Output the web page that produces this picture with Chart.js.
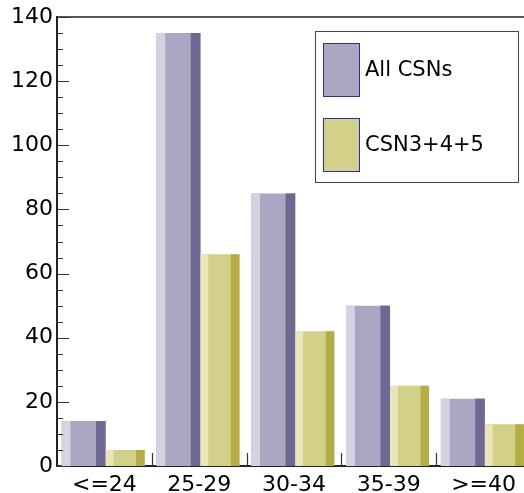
<!DOCTYPE html>
<html>
<head>
<meta charset="utf-8">
<script src="https://cdn.jsdelivr.net/npm/chart.js@4"></script>
<style>
html, body { margin: 0; padding: 0; background: #fff; overflow: hidden; }
</style>
</head>
<body>
<canvas id="grafico" width="540" height="493"></canvas>
<script>
const categorias = ['<=24', '25-29', '30-34', '35-39', '>=40'];
const todos = [14, 135, 85, 50, 21];
const csn345 = [5, 66, 42, 25, 13];
const nombres = ['All CSNs', 'CSN3+4+5'];
const marcasY = [0, 20, 40, 60, 80, 100, 120, 140];

// tres tonos por serie: franja clara, cuerpo, franja oscura
const colores = [
    { claro: '#d4d3e1', medio: '#aaa7c3', oscuro: '#6f6894' },
    { claro: '#e9e6b9', medio: '#d3d08a', oscuro: '#b3ad44' }
];
const fuente = { family: 'DejaVu Sans', size: 22, lineHeight: 1 };

// franjas de relieve sobre cada barra
const relieve = {
    id: 'relieve',
    afterDatasetsDraw(chart) {
        const ctx = chart.ctx;
        chart.data.datasets.forEach((ds, d) => {
            const c = colores[d];
            chart.getDatasetMeta(d).data.forEach(bar => {
                const p = bar.getProps(['x', 'y', 'base', 'width'], true);
                const izq = p.x - p.width / 2;
                const alto = p.base - p.y;
                ctx.save();
                ctx.fillStyle = c.claro;
                ctx.fillRect(izq, p.y, p.width * 0.2, alto);
                ctx.fillStyle = c.oscuro;
                ctx.fillRect(izq + p.width * 0.78, p.y, p.width * 0.22, alto);
                ctx.restore();
            });
        });
    }
};

// marco superior, marcas hacia dentro y leyenda
const marco = {
    id: 'marco',
    afterDraw(chart) {
        const ctx = chart.ctx;
        const a = chart.chartArea;
        const sy = chart.scales.y;
        const sx = chart.scales.x;
        ctx.save();
        ctx.strokeStyle = '#222';
        ctx.lineWidth = 1.5;
        ctx.beginPath();
        ctx.moveTo(a.left, a.top);
        ctx.lineTo(a.right, a.top);
        ctx.lineTo(a.right, a.bottom);
        ctx.stroke();

        ctx.lineWidth = 1.2;
        ctx.strokeStyle = '#333';
        ctx.beginPath();
        for (let v = sy.min; v <= sy.max; v += 5) {
            const py = Math.round(sy.getPixelForValue(v)) + 0.5;
            const largo = v % 20 === 0 ? 12 : 6;
            ctx.moveTo(a.left, py);
            ctx.lineTo(a.left + largo, py);
        }
        for (let i = 0; i < categorias.length - 1; i++) {
            const px = Math.round((sx.getPixelForValue(i) + sx.getPixelForValue(i + 1)) / 2) + 0.5;
            ctx.moveTo(px, a.bottom);
            ctx.lineTo(px, a.bottom - 13);
        }
        ctx.stroke();

        // leyenda
        const lx = 315.5, ly = 31.5, lw = 203, lh = 151;
        ctx.fillStyle = '#fff';
        ctx.fillRect(lx, ly, lw, lh);
        ctx.strokeStyle = '#444';
        ctx.lineWidth = 1;
        ctx.strokeRect(lx, ly, lw, lh);
        ctx.font = '21px "DejaVu Sans"';
        ctx.textBaseline = 'middle';
        chart.data.datasets.forEach((ds, d) => {
            const top = 43.5 + d * 75;
            ctx.fillStyle = colores[d].medio;
            ctx.fillRect(323.5, top, 36, 53);
            ctx.strokeStyle = '#2a2ab8';
            ctx.strokeRect(323.5, top, 36, 53);
            ctx.fillStyle = '#000';
            ctx.fillText(ds.label, 365, top + 27);
        });
        ctx.restore();
    }
};

const datos = {
    labels: categorias,
    datasets: [{
        label: nombres[0],
        data: todos,
        backgroundColor: colores[0].medio,
        borderWidth: 0,
        barPercentage: 1.06,
        categoryPercentage: 0.876
    },
    {
        label: nombres[1],
        data: csn345,
        backgroundColor: colores[1].medio,
        borderWidth: 0,
        barPercentage: 0.94,
        categoryPercentage: 0.876
    }]
};

const miGrafico = new Chart(document.getElementById('grafico').getContext('2d'), {
    type: 'bar',
    data: datos,
    plugins: [relieve, marco],
    options: {
        responsive: false,
        animation: false,
        layout: { padding: { top: 17, left: 7, right: 9, bottom: -11 } },
        plugins: {
            legend: { display: false },
            tooltip: { enabled: false }
        },
        scales: {
            x: {
                grid: { display: false, drawTicks: false },
                border: { display: true, color: '#222', width: 2 },
                ticks: { color: '#000', font: fuente, padding: 8, maxRotation: 0 }
            },
            y: {
                min: marcasY[0],
                max: marcasY[marcasY.length - 1],
                afterBuildTicks(scale) {
                    scale.ticks = marcasY.map(v => ({ value: v }));
                },
                grid: { display: false, drawTicks: false },
                border: { display: true, color: '#222', width: 2 },
                ticks: { color: '#000', font: fuente, padding: 4 }
            }
        }
    }
});
</script>
</body>
</html>
